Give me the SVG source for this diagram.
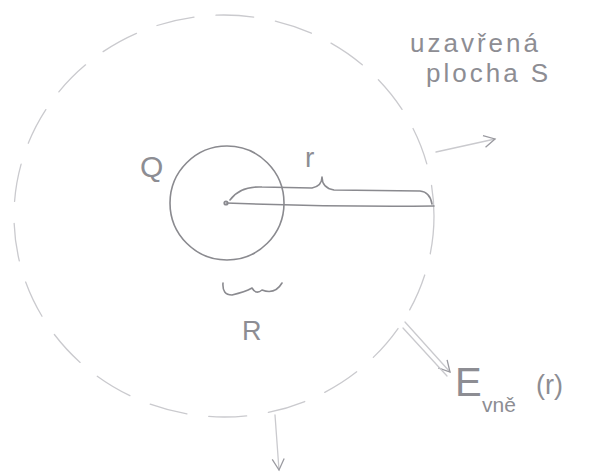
<svg xmlns="http://www.w3.org/2000/svg" width="599" height="475" viewBox="0 0 599 475">
<defs>
<style>
.pen{fill:none;stroke:#8a8a8f;stroke-width:1.6;stroke-linecap:round;stroke-linejoin:round}
.faint{fill:none;stroke:#cacace;stroke-width:1.3;stroke-linecap:round}
.lbl{font-family:"Liberation Sans","DejaVu Sans",sans-serif;fill:#8d8d93}
</style>
<marker id="ah" markerWidth="14" markerHeight="14" refX="12" refY="7" orient="auto" markerUnits="userSpaceOnUse">
<path d="M1,1 L12,7 L1,13" fill="none" stroke="#9a9aa0" stroke-width="1.3"/>
</marker>
</defs>
<rect width="599" height="475" fill="#ffffff"/>
<g id="surface">
<ellipse cx="224" cy="216" rx="210" ry="201" class="faint" stroke-dasharray="38 22"/>
</g>
<g id="sphere">
<circle cx="227" cy="203" r="57" class="pen"/>
<circle cx="226" cy="203" r="1.8" class="pen"/>
</g>
<g id="connectors">
<path d="M226,203 Q330,207 434,206" class="pen"/>
<path d="M230,200 Q240,186 262,187 L312,188 Q322,186 322,177 Q322,188 334,190 L420,191 Q430,192 432,204" class="pen"/>
<path d="M223,283 Q222,295 232,295 Q245,292 252,288 Q256,295 262,290 Q275,295 282,283" class="pen" stroke-width="1.2"/>
<path d="M436,152 L495,139" class="faint" marker-end="url(#ah)"/>
<path d="M405,322 L450,372" class="faint" stroke="#a8a8ae" marker-end="url(#ah)"/>
<path d="M403,328 L447,376" class="faint"/>
<path d="M275,415 L279,470" class="faint" stroke="#a8a8ae" marker-end="url(#ah)"/>
</g>
<g id="labels">
<text x="140" y="177" class="lbl" font-size="30">Q</text>
<text x="305" y="167" class="lbl" font-size="28">r</text>
<text x="242" y="340" class="lbl" font-size="27">R</text>
<text x="410" y="52" class="lbl" font-size="26" letter-spacing="3">uzavřená</text>
<text x="426" y="82" class="lbl" font-size="26" letter-spacing="3">plocha S</text>
<text x="455" y="396" class="lbl" font-size="40">E</text>
<text x="482" y="412" class="lbl" font-size="21">vně</text>
<text x="536" y="394" class="lbl" font-size="27">(r)</text>
</g>
</svg>
